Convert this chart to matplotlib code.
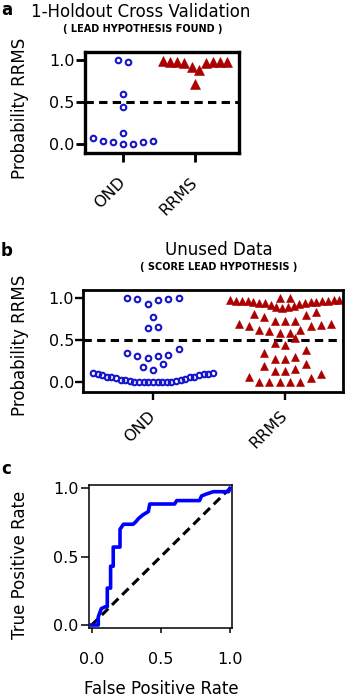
import numpy as np
import matplotlib.pyplot as plt

W, H = 357, 698
plt.rcParams['font.family'] = ['DejaVu Sans']
plt.rcParams['lines.scale_dashes'] = False

groups = ['OND', 'RRMS']

# a: 1-holdout cross validation (probability of RRMS per patient)
ond_a = [0.0, 0.0, 0.025, 0.025, 0.03, 0.035, 0.075, 0.135, 0.44, 0.595, 0.98, 1.0]
rrms_a = [0.72, 0.885, 0.925, 0.965, 0.965, 0.975, 0.975, 0.98, 0.985, 0.985, 0.995]

# b: unused data
ond_b = [0.11, 0.10, 0.095, 0.085, 0.07, 0.06, 0.05, 0.035, 0.025, 0.015, 0.01, 0.005,
         0.0, 0.0, 0.0, 0.0, 0.0, 0.005, 0.01, 0.02, 0.03, 0.045, 0.06, 0.07, 0.085, 0.10, 0.11,
         0.146, 0.182, 0.214,
         0.289, 0.313, 0.313, 0.325, 0.349, 0.40,
         0.65, 0.662, 0.774,
         0.93, 0.976, 0.988, 0.988, 1.0, 1.0]
rrms_b = [0.0, 0.0, 0.005, 0.01, 0.01, 0.05, 0.065, 0.105,
          0.14, 0.14, 0.16, 0.19, 0.225,
          0.28, 0.28, 0.305, 0.35, 0.385,
          0.445, 0.47, 0.525,
          0.585, 0.585, 0.615, 0.62, 0.63, 0.67, 0.67, 0.68, 0.69, 0.695,
          0.73, 0.73, 0.73, 0.775, 0.80, 0.82, 0.835,
          0.884, 0.90, 0.90, 0.912, 0.92, 0.932, 0.94, 0.94, 0.948, 0.956,
          0.956, 0.96, 0.964, 0.968, 0.968, 0.972, 0.972, 0.976, 0.976, 0.98,
          1.0, 1.0]

# c: ROC curve
fpr = [0, 0.048, 0.048, 0.07, 0.10, 0.113, 0.113, 0.137, 0.137, 0.156, 0.156, 0.205,
       0.205, 0.23, 0.30, 0.32, 0.34, 0.37, 0.41, 0.42, 0.60, 0.615, 0.78, 0.795,
       0.83, 0.88, 0.99, 1.0]
tpr = [0, 0, 0.06, 0.12, 0.134, 0.134, 0.27, 0.27, 0.43, 0.43, 0.57, 0.57,
       0.70, 0.737, 0.737, 0.756, 0.78, 0.805, 0.83, 0.885, 0.885, 0.91, 0.91, 0.944,
       0.958, 0.975, 0.975, 1.0]
chance = [0, 1]

blue = '#1515cc'
red = '#aa0000'


def fx(x):
    return x / W


def fy(y):
    return 1 - y / H


def rows(vals, tol=0.113):
    # group sorted values into horizontal rows, prism style
    out = []
    for v in sorted(vals):
        if out and v - out[-1][0] < tol:
            out[-1].append(v)
        else:
            out.append([v])
    return out


def swarm(ax, x0, vals, step, maxw, first=-1, **kw):
    bb = ax.get_window_extent()
    lo, hi = ax.get_xlim()
    ppu = bb.width / (hi - lo)
    xs, ys = [], []
    for row in rows(vals):
        n = len(row)
        d = step if n < 2 else min(step, maxw / (n - 1))
        slots = sorted(np.arange(n) - (n - 1) / 2, key=lambda s: (abs(s), first * s < 0))
        xs += [x0 + s * d / ppu for s in slots]
        ys += row
    ax.plot(xs, ys, ls='none', clip_on=False, **kw)


def dot_axes(ax, xlim, lw, tlen, pad):
    ax.set_xlim(*xlim)
    ax.set_ylim(-0.11, 1.1)
    ax.set_yticks([0, 0.5, 1.0])
    ax.set_yticklabels(['0.0', '0.5', '1.0'])
    ax.set_xticks([0, 1])
    ax.set_xticklabels(groups, rotation=45, ha='right', va='center', rotation_mode='anchor')
    ax.axhline(0.5, color='k', lw=2.2, dashes=(6, 3.8))
    for s in ax.spines.values():
        s.set_linewidth(lw)
    ax.tick_params(width=lw * 0.85, length=tlen, labelsize=11.5)
    ax.tick_params(axis='x', pad=pad)
    ax.tick_params(axis='y', pad=1)


fig = plt.figure(figsize=(W / 100, H / 100), dpi=100)

# panel a
ax1 = fig.add_axes([fx(85), fy(153), 154 / W, 101 / H])
dot_axes(ax1, (-0.53, 1.61), 2.4, 6.5, 13)
swarm(ax1, 0, ond_a, 10, 64, first=1, marker='o', ms=4.0, mfc='none', mec=blue, mew=1.5)
swarm(ax1, 1, rrms_a, 10, 64, first=1, marker='^', ms=7, color=red, mew=0.4)

fig.text(fx(1), fy(1), 'a', weight='bold', size=12, va='top')
fig.text(fx(141), fy(16.7), '1-Holdout Cross Validation', ha='center', va='baseline', size=12)
fig.text(fx(142.5), fy(31.7), '( LEAD HYPOTHESIS FOUND )', ha='center', va='baseline',
         size=7, weight='bold')
fig.text(fx(20), fy(108), 'Probability RRMS', rotation=90, ha='center', va='center', size=12)

# panel b
ax2 = fig.add_axes([fx(83), fy(391.7), 260 / W, 101.7 / H])
dot_axes(ax2, (-0.53, 1.44), 2.0, 5.5, 10)
swarm(ax2, 0, ond_b, 10.3, 120, marker='o', ms=4.0, mfc='none', mec=blue, mew=1.5)
swarm(ax2, 1, rrms_b, 10.3, 109, marker='^', ms=6.2, color=red, mew=0.4)

fig.text(fx(1), fy(256.5), 'b', weight='bold', size=12, va='baseline')
fig.text(fx(219), fy(255), 'Unused Data', ha='center', va='baseline', size=12)
fig.text(fx(219), fy(270), '( SCORE LEAD HYPOTHESIS )', ha='center', va='baseline',
         size=7, weight='bold')
fig.text(fx(20), fy(345), 'Probability RRMS', rotation=90, ha='center', va='center', size=12)

# panel c
ax3 = fig.add_axes([fx(89.3), fy(628.3), 143 / W, 143.3 / H])
ax3.plot(chance, chance, color='k', lw=2.2, dashes=(6.5, 3.8))
ax3.plot(fpr, tpr, color='#0000ff', lw=2.6, zorder=3)
ax3.set_xlim(-0.017, 1.017)
ax3.set_ylim(-0.024, 1.024)
ax3.set_xticks([0, 0.5, 1.0])
ax3.set_xticklabels(['0.0', '0.5', '1.0'])
ax3.set_yticks([0, 0.5, 1.0])
ax3.set_yticklabels(['0.0', '0.5', '1.0'])
for s in ax3.spines.values():
    s.set_linewidth(1.1)
ax3.tick_params(width=1.1, labelsize=11.5)
ax3.tick_params(axis='x', length=3.6, pad=13.5)
ax3.tick_params(axis='y', length=5.5, pad=2.4)

fig.text(fx(1), fy(474), 'c', weight='bold', size=12, va='baseline')
fig.text(fx(20), fy(565), 'True Positive Rate', rotation=90, ha='center', va='center', size=12)
fig.text(fx(161), fy(693.5), 'False Positive Rate', ha='center', va='baseline', size=12)

fig.savefig('out.png', dpi=100)
